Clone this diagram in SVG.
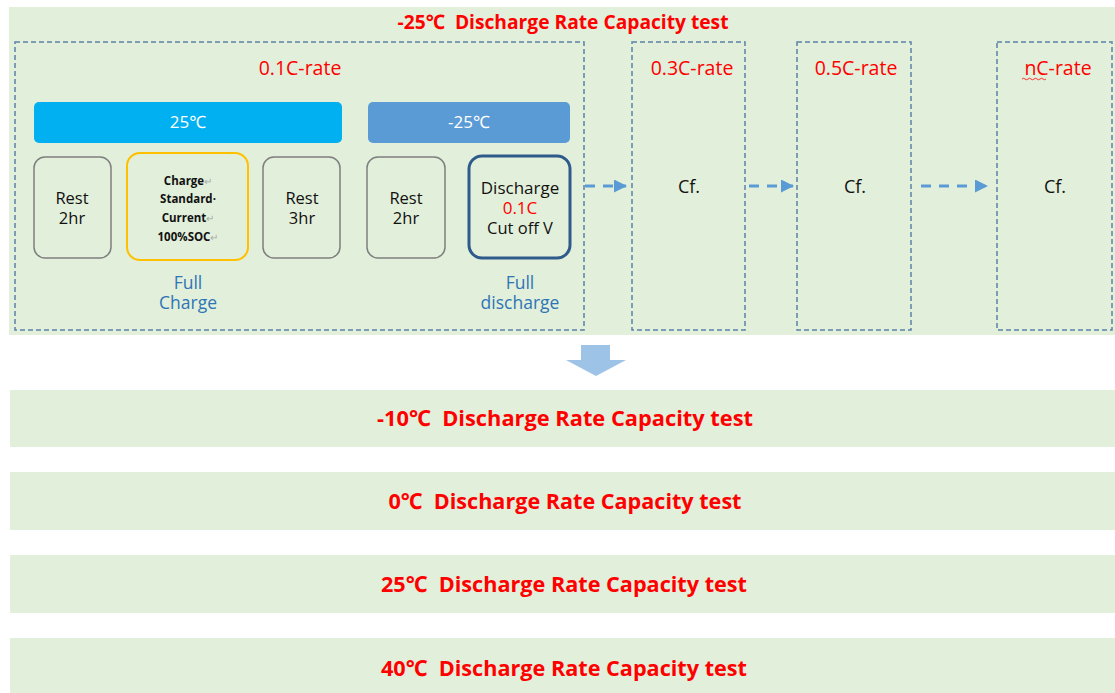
<svg xmlns="http://www.w3.org/2000/svg" width="1115" height="693" viewBox="0 0 1115 693">
<style>
.panel{fill:#e2efda}
.dash{fill:none;stroke:#5b82a6;stroke-width:1.5;stroke-dasharray:5 3}
.rate{font-family:"Open Sans","Noto Sans",sans-serif;font-size:19.5px;fill:#ff0000;text-anchor:middle}
.title{font-family:"Open Sans","Noto Sans","DejaVu Sans",sans-serif;font-size:20px;font-weight:bold;fill:#ff0000;text-anchor:middle;white-space:pre}
.big{font-size:22px}
.step{font-family:"Open Sans","Noto Sans",sans-serif;font-size:16.5px;fill:#111;text-anchor:middle}
.box{fill:#e2efda;stroke:#7f7f7f;stroke-width:1.5}
.lbl{font-family:"Open Sans","Noto Sans",sans-serif;font-size:17.5px;fill:#2e75b6;text-anchor:middle}
.bar{font-family:"Open Sans","Noto Sans","DejaVu Sans",sans-serif;font-size:17px;fill:#fff;text-anchor:middle}
.conn{stroke:#5b9bd5;stroke-width:3;stroke-dasharray:10 8;fill:none}
.sm{font-family:"Open Sans","Noto Sans",sans-serif;font-size:11.5px;font-weight:bold;fill:#111;text-anchor:middle}
.ret{fill:#aaa;font-weight:normal;font-size:10px}
</style>
<defs>
<marker id="ah" markerWidth="13" markerHeight="13" refX="12" refY="6.5" orient="auto" markerUnits="userSpaceOnUse" viewBox="0 0 13 13">
<path d="M0,0 L13,6.5 L0,13 z" fill="#5b9bd5"/>
</marker>
</defs>
<rect width="1115" height="693" fill="#ffffff"/>
<g id="main-panel">
<rect class="panel" x="9" y="7" width="1106" height="328"/>
<text class="title" x="563" y="29" textLength="331" lengthAdjust="spacingAndGlyphs">-25℃  Discharge Rate Capacity test</text>
</g>
<g id="rate01">
<rect class="dash" x="15" y="42" width="569" height="288"/>
<text class="rate" x="300" y="75">0.1C-rate</text>
</g>
<g id="bar25">
<rect x="34" y="102" width="308" height="41" rx="5" fill="#00b0f0"/>
<text class="bar" x="188" y="128">25℃</text>
</g>
<g id="barm25">
<rect x="368" y="102" width="202" height="41" rx="5" fill="#5b9bd5"/>
<text class="bar" x="469" y="128">-25℃</text>
</g>
<g id="rest1">
<rect class="box" x="34" y="157" width="77" height="101" rx="11"/>
<text class="step" x="72" y="204">Rest</text>
<text class="step" x="72" y="224">2hr</text>
</g>
<g id="charge">
<rect x="127" y="153" width="121" height="107" rx="13" fill="#e2efda" stroke="#ffc000" stroke-width="2"/>
<text class="sm" x="188" y="185">Charge<tspan class="ret">↵</tspan></text>
<text class="sm" x="188" y="203">Standard·</text>
<text class="sm" x="188" y="222">Current<tspan class="ret">↵</tspan></text>
<text class="sm" x="188" y="241">100%SOC<tspan class="ret">↵</tspan></text>
</g>
<g id="rest2">
<rect class="box" x="263" y="157" width="77" height="101" rx="11"/>
<text class="step" x="302" y="204">Rest</text>
<text class="step" x="302" y="224">3hr</text>
</g>
<g id="rest3">
<rect class="box" x="367" y="157" width="78" height="101" rx="11"/>
<text class="step" x="406" y="204">Rest</text>
<text class="step" x="406" y="224">2hr</text>
</g>
<g id="discharge">
<rect x="469" y="156" width="101" height="102" rx="13" fill="#e2efda" stroke="#2f5b8c" stroke-width="3"/>
<text class="step" x="520" y="194" style="font-size:17px">Discharge</text>
<text class="step" x="520" y="214" style="fill:#ff0000;font-size:17px">0.1C</text>
<text class="step" x="520" y="234">Cut off V</text>
</g>
<g id="full-charge">
<text class="lbl" x="188" y="289">Full</text>
<text class="lbl" x="188" y="309">Charge</text>
</g>
<g id="full-discharge">
<text class="lbl" x="520" y="289">Full</text>
<text class="lbl" x="520" y="309">discharge</text>
</g>
<g id="rate03">
<rect class="dash" x="632" y="42" width="113" height="288"/>
<text class="rate" x="692" y="75">0.3C-rate</text>
<text class="step" x="689" y="193" style="font-size:18px">Cf.</text>
</g>
<g id="rate05">
<rect class="dash" x="797" y="42" width="114" height="288"/>
<text class="rate" x="856" y="75">0.5C-rate</text>
<text class="step" x="855" y="193" style="font-size:18px">Cf.</text>
</g>
<g id="rateN">
<rect class="dash" x="997" y="42" width="115" height="288"/>
<text class="rate" x="1058" y="75">nC-rate</text>
<path d="M1022,79 q1.5,-1.5 3,0 t3,0 t3,0 t3,0 t3,0 t3,0 t3,0 t3,0" fill="none" stroke="#ff0000" stroke-width="0.8"/>
<text class="step" x="1055" y="193" style="font-size:18px">Cf.</text>
</g>
<g id="connectors">
<line class="conn" x1="585" y1="186" x2="626" y2="186" marker-end="url(#ah)"/>
<line class="conn" x1="749" y1="186" x2="793" y2="186" marker-end="url(#ah)"/>
<line class="conn" x1="921" y1="186" x2="987" y2="186" marker-end="url(#ah)"/>
<path d="M581,345 H610 V360 H626 L596,376 L566,360 H581 Z" fill="#9dc3e6"/>
</g>
<g id="t-10">
<rect class="panel" x="10" y="390" width="1105" height="57"/>
<text class="title big" x="565" y="426" textLength="376" lengthAdjust="spacingAndGlyphs">-10℃  Discharge Rate Capacity test</text>
</g>
<g id="t0">
<rect class="panel" x="10" y="472" width="1105" height="58"/>
<text class="title big" x="565" y="509" textLength="353" lengthAdjust="spacingAndGlyphs">0℃  Discharge Rate Capacity test</text>
</g>
<g id="t25">
<rect class="panel" x="10" y="555" width="1105" height="58"/>
<text class="title big" x="564" y="592" textLength="366" lengthAdjust="spacingAndGlyphs">25℃  Discharge Rate Capacity test</text>
</g>
<g id="t40">
<rect class="panel" x="10" y="638" width="1105" height="55"/>
<text class="title big" x="564" y="676" textLength="366" lengthAdjust="spacingAndGlyphs">40℃  Discharge Rate Capacity test</text>
</g>
</svg>
